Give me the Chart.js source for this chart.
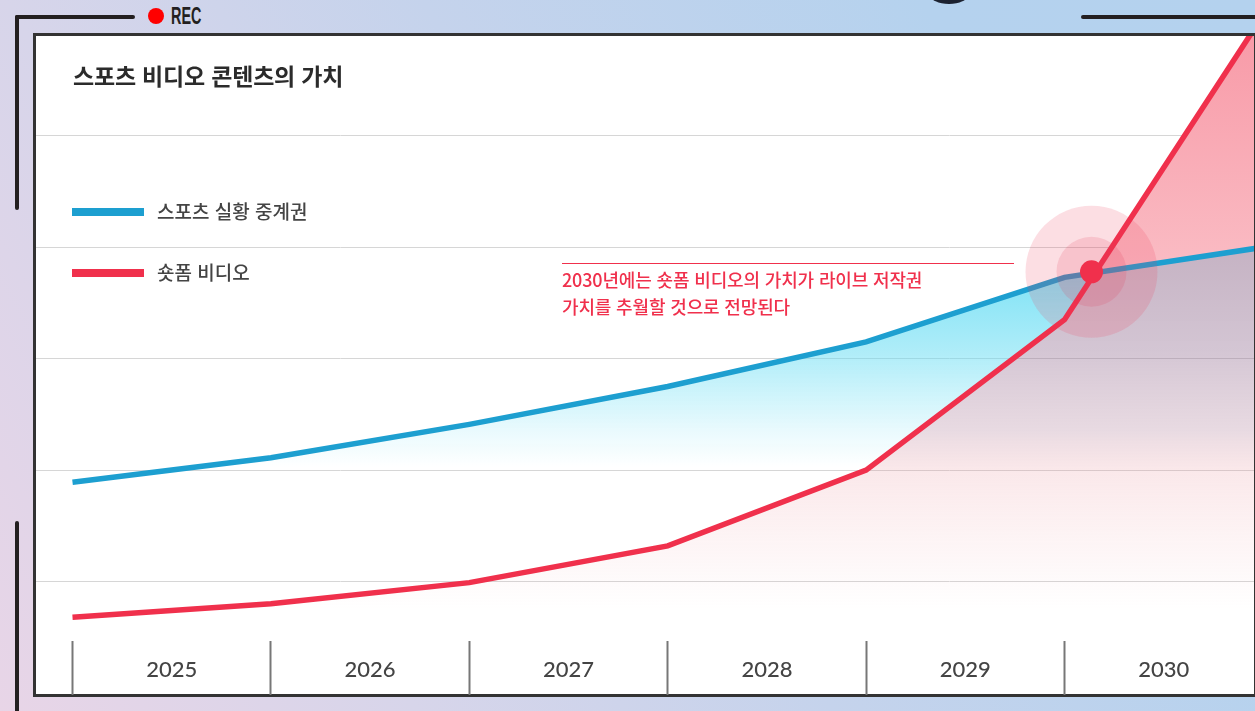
<!DOCTYPE html>
<html lang="ko">
<head>
<meta charset="utf-8">
<script src="https://cdn.jsdelivr.net/npm/chart.js@4"></script>
<style>
  html, body { margin: 0; padding: 0; width: 1255px; height: 711px; overflow: hidden; }
  body { position: relative; background: linear-gradient(60deg, #e8d5e7 0%, #d7d5ea 25%, #c5d3ec 50%, #b5d2ee 80%, #b4d2ee 100%); font-family: "Noto Sans CJK KR", sans-serif; }
  .abs { position: absolute; white-space: nowrap; }
  .bar { position: absolute; background: #231f20; border-radius: 2px; }
  #frame { position: absolute; left: 33px; top: 33px; width: 1218px; height: 658px; background: #fff; border: 3px solid #333; }
  #wrap { position: absolute; left: 0; top: 0; width: 1255px; height: 711px; }
  #title { left: 73px; top: 59px; font-size: 23px; line-height: 32px; font-weight: 700; color: #2b2b2b; letter-spacing: -0.2px; }
  .legend-line { position: absolute; left: 72px; width: 72px; height: 8px; }
  .legend-text { left: 157px; font-size: 19px; line-height: 26px; color: #444; font-weight: 500; }
  #note { left: 562px; top: 266px; font-size: 18px; line-height: 27px; color: #f0304c; letter-spacing: -0.15px; font-weight: 500; }
  #noteLine { position: absolute; left: 562px; top: 263px; width: 452px; height: 1px; background: #f0304c; }
  #rec { left: 171px; top: 2px; font-family: "Liberation Sans", sans-serif; font-weight: 700; font-size: 24px; line-height: 28px; color: #231f20; transform: scaleX(0.6); transform-origin: left center; }
  #dot { position: absolute; left: 148px; top: 8px; width: 16px; height: 16px; border-radius: 50%; background: #ff0000; }
  #blob { position: absolute; left: 930px; top: -14px; width: 38px; height: 18px; border-radius: 50%; background: #1c2230; }
</style>
</head>
<body>
<div id="blob"></div>
<div class="bar" style="left:15px;top:15px;width:120px;height:3.5px"></div>
<div class="bar" style="left:15px;top:15px;width:3.5px;height:195px"></div>
<div class="bar" style="left:15px;top:521px;width:3.5px;height:195px"></div>
<div class="bar" style="left:1081px;top:15px;width:190px;height:3.5px"></div>
<div id="dot"></div>
<div class="abs" id="rec">REC</div>
<div id="frame"></div>
<div id="wrap"><canvas id="chart_sportsVideoValue"></canvas></div>
<div class="abs" id="title">스포츠 비디오 콘텐츠의 가치</div>
<div class="legend-line" style="top:208px;background:#1d9fd0"></div>
<div class="abs legend-text" id="legendBlue" style="top:198px">스포츠 실황 중계권</div>
<div class="legend-line" style="top:269px;background:#f0304c"></div>
<div class="abs legend-text" id="legendRed" style="top:259px">숏폼 비디오</div>
<div id="noteLine"></div>
<div class="abs" id="note">2030년에는 숏폼 비디오의 가치가 라이브 저작권<br>가치를 추월할 것으로 전망된다</div>
<script>
// values, y in grid steps
const years = [2025, 2026, 2027, 2028, 2029, 2030, 2031];
const rightsValues = [1.89, 2.11, 2.41, 2.75, 3.15, 3.73, 4.00];
const shortformValues = [0.68, 0.80, 0.99, 1.32, 2.00, 3.35, 6.08];
const crossover = [{x: 2030.136, y: 3.78}];
// lower edge of both lines, for the greyish area under them
const lowerEdgeYears = [2025, 2026, 2027, 2028, 2029, 2030, 2030.154, 2031];
const lowerEdgeValues = [0.68, 0.80, 0.99, 1.32, 2.00, 3.35, 3.772, 4.00];

const pairs = (xs, vals) => xs.map((x, i) => ({x: x, y: vals[i]}));

const canvas = document.getElementById('chart_sportsVideoValue');
const ctx = canvas.getContext('2d');

const cyanFill = ctx.createLinearGradient(0, 280, 0, 468);
cyanFill.addColorStop(0, 'rgba(100,220,243,0.8)');
cyanFill.addColorStop(0.4, 'rgba(100,220,243,0.5)');
cyanFill.addColorStop(0.8, 'rgba(100,220,243,0.14)');
cyanFill.addColorStop(1, 'rgba(100,220,243,0)');

const pinkFill = ctx.createLinearGradient(0, 35, 0, 270);
pinkFill.addColorStop(0, 'rgb(248,155,168)');
pinkFill.addColorStop(1, 'rgb(250,188,196)');

const greyFill = ctx.createLinearGradient(0, 250, 0, 610);
greyFill.addColorStop(0, 'rgba(117,72,112,0.42)');
greyFill.addColorStop(0.28, 'rgba(147,112,147,0.4)');
greyFill.addColorStop(0.5, 'rgba(178,132,158,0.3)');
greyFill.addColorStop(0.61, 'rgba(230,140,150,0.2)');
greyFill.addColorStop(0.78, 'rgba(235,135,145,0.1)');
greyFill.addColorStop(1, 'rgba(235,135,145,0)');

var chart_sportsVideoValue = new Chart(canvas, {
    type: 'line',
    data: {
        datasets: [
            {
                label: '스포츠 실황 중계권',
                data: pairs(years, rightsValues),
                borderColor: '#1d9fd0',
                borderWidth: 5.5,
                fill: {target: 1, above: cyanFill, below: 'transparent'},
                pointRadius: 0,
                order: 5
            },
            {
                label: '숏폼 비디오',
                data: pairs(years, shortformValues),
                borderColor: '#f0304c',
                borderWidth: 5.5,
                fill: false,
                pointRadius: 0,
                order: 4
            },
            {
                label: 'pink area',
                data: pairs(years, shortformValues),
                borderWidth: 0,
                fill: {target: 0, above: pinkFill, below: 'transparent'},
                pointRadius: 0,
                order: 6
            },
            {
                label: 'grey area',
                data: pairs(lowerEdgeYears, lowerEdgeValues),
                borderWidth: 0,
                backgroundColor: greyFill,
                fill: 'origin',
                pointRadius: 0,
                order: 7
            },
            {
                label: 'outer',
                data: crossover,
                pointRadius: 66,
                pointBackgroundColor: 'rgba(235,60,90,0.17)',
                pointBorderWidth: 0,
                showLine: false,
                order: 3
            },
            {
                label: 'inner',
                data: crossover,
                pointRadius: 35,
                pointBackgroundColor: 'rgba(225,60,90,0.17)',
                pointBorderWidth: 0,
                showLine: false,
                order: 2
            },
            {
                label: 'crossover',
                data: crossover,
                pointRadius: 11.5,
                pointBackgroundColor: '#f0304c',
                pointBorderWidth: 0,
                showLine: false,
                order: 1
            }
        ]
    },
    options: {
        animation: false,
        responsive: true,
        maintainAspectRatio: false,
        layout: {
            autoPadding: false,
            padding: {left: 36, right: 1, top: 36, bottom: 16}
        },
        plugins: {
            legend: {display: false},
            tooltip: {enabled: false}
        },
        scales: {
            x: {
                type: 'linear',
                min: 2024.816,
                max: 2030.955,
                border: {display: false},
                grid: {
                    drawOnChartArea: false,
                    tickLength: 54,
                    tickWidth: 2,
                    tickColor: (c) => (c.tick && c.tick.value % 1 === 0) ? '#777' : 'transparent'
                },
                ticks: {
                    stepSize: 0.5,
                    includeBounds: false,
                    autoSkip: false,
                    maxRotation: 0,
                    padding: -38,
                    color: '#444',
                    font: {family: 'Lato', size: 22, weight: '500'},
                    callback: function(value) {
                        return value % 1 === 0.5 ? String(Math.floor(value)) : '';
                    }
                },
                afterFit: function(scale) {
                    scale.height = 54;
                }
            },
            y: {
                type: 'linear',
                min: 0.466,
                max: 5.896,
                border: {display: false},
                grid: {color: '#d6d6d6', lineWidth: 1, drawTicks: false},
                ticks: {display: false, stepSize: 1, includeBounds: false},
                afterFit: function(scale) {
                    scale.width = 0;
                }
            }
        }
    }
});
</script>
</body>
</html>
